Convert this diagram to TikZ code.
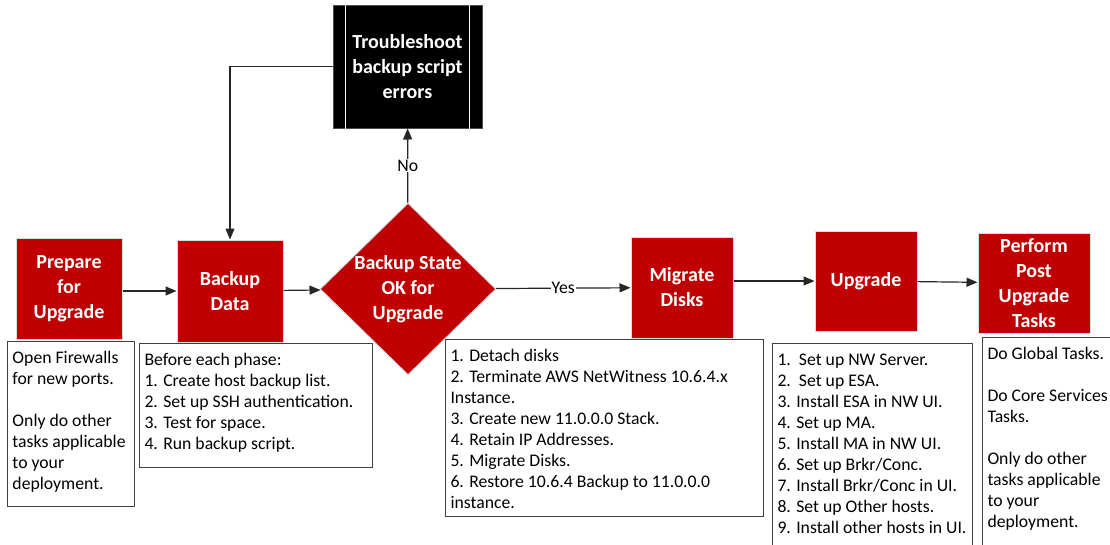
\documentclass[tikz,border=0pt]{standalone}
\usepackage{fontspec}
\setmainfont{Carlito}
\usepackage{xcolor}
\usepackage{tikz}
\usetikzlibrary{shapes,shapes.geometric,arrows.meta,calc}
\definecolor{boxred}{HTML}{C00000}
\definecolor{rededge}{HTML}{D6DCE5}
\definecolor{linegray}{HTML}{404040}

\begin{document}
\begin{tikzpicture}[x=1pt,y=-1pt,
  redbox/.style={fill=boxred,draw=rededge,line width=1pt,text=white,
    font=\fontsize{20}{25}\selectfont\bfseries,align=center,inner sep=0pt},
  notebox/.style={draw=linegray,line width=1pt,anchor=north west,
    inner xsep=5pt,inner ysep=7pt,font=\fontsize{17.7}{21}\selectfont},
  flowlabel/.style={fill=white,inner sep=1pt,font=\fontsize{17.7}{21}\selectfont},
  flow/.style={draw=black!85,line width=1.2pt,-{Triangle[length=11pt,width=9pt]}}]
\useasboundingbox (0,0) rectangle (1110,544);

% the red steps, left to right
\foreach \nm/\x/\y/\w/\h/\txt in {
  prep/69/288.5/106/101/{Prepare\\for\\Upgrade},
  backup/230/291/106/102/{Backup\\Data},
  migrate/682/287.5/102/101/{Migrate\\Disks},
  upgrade/866/281/102/100/{Upgrade},
  post/1034/283/112/100/{Perform\\Post\\Upgrade\\Tasks}}
  {\node[redbox,minimum width=\w pt,minimum height=\h pt] (\nm) at (\x,\y) {\txt};}

% decision, text kept out so the diamond keeps its size
\node[redbox,diamond,minimum width=176pt,minimum height=172pt] (check) at (408,289) {};
\node[text=white,font=\fontsize{20}{25}\selectfont\bfseries,align=center] (checktext) at (check) {Backup State\\OK for\\Upgrade};

% troubleshoot box (predefined process)
\node[redbox,fill=black,draw=black!70,minimum width=149pt,minimum height=123pt] (trouble) at (407.5,66.5) {Troubleshoot\\backup script\\errors};
\draw[white,line width=1pt] ([xshift=13pt]trouble.north west) -- ([xshift=13pt]trouble.south west);
\draw[white,line width=1pt] ([xshift=-13pt]trouble.north east) -- ([xshift=-13pt]trouble.south east);

% notes under the steps
\node[notebox] (prepnote) at (7,341) {\parbox[t][151pt][t]{117pt}{\raggedright\strut
  Open Firewalls\\for new ports.\\[21pt]Only do other\\tasks applicable\\to your\\deployment.}};
\node[notebox] (backupnote) at (139,343) {\parbox[t][110pt][t]{223pt}{\raggedright\strut
  Before each phase:\\1. Create host backup list.\\2. Set up SSH authentication.\\3. Test for space.\\4. Run backup script.}};
\node[notebox] (migratenote) at (445,339) {\parbox[t][163pt][t]{308pt}{\raggedright\strut
  1. Detach disks\\2. Terminate AWS NetWitness 10.6.4.x\\Instance.\\3. Create new 11.0.0.0 Stack.\\4. Retain IP Addresses.\\5. Migrate Disks.\\6. Restore 10.6.4 Backup to 11.0.0.0\\instance.}};
\node[notebox] (upgradenote) at (772,343) {\parbox[t][220pt][t]{190pt}{\raggedright\strut
  1.\ \ Set up NW Server.\\2.\ \ Set up ESA.\\3. Install ESA in NW UI.\\4. Set up MA.\\5. Install MA in NW UI.\\6. Set up Brkr/Conc.\\7. Install Brkr/Conc in UI.\\8. Set up Other hosts.\\9. Install other hosts in UI.}};
\node[notebox] (postnote) at (982,337) {\parbox[t][220pt][t]{160pt}{\raggedright\strut
  Do Global Tasks.\\[21pt]Do Core Services\\Tasks.\\[21pt]Only do other\\tasks applicable\\to your\\deployment.}};

% connectors
\draw[flow] (prep.east |- backup) -- (backup);
\draw[flow] (backup) -- (check);
\draw[flow] (check) -- node[flowlabel] (yes) {Yes} (migrate);
\draw[flow] (migrate.east |- upgrade) -- (upgrade);
\draw[flow] (upgrade) -- (post);
\draw[flow] (check) -- node[flowlabel] (no) {No} (trouble);
\draw[flow] (trouble.west) -| (backup.north);
\end{tikzpicture}
\end{document}
